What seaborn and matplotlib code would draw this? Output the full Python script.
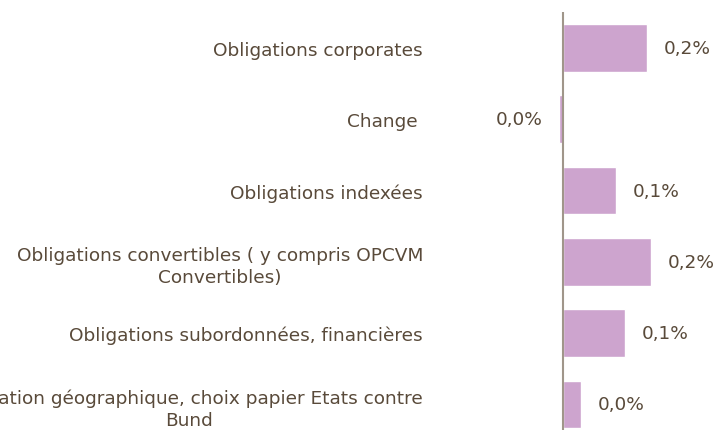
import numpy as np
import seaborn as sb
import pandas as pd
import matplotlib.pyplot as plt

# Data (valeurs en %)
categories = [
    "Obligations corporates",
    "Change ",
    "Obligations indexées",
    "Obligations convertibles ( y compris OPCVM\nConvertibles)",
    "Obligations subordonnées, financières",
    "Allocation géographique, choix papier Etats contre\nBund",
]
values = [0.19, -0.009, 0.12, 0.20, 0.14, 0.041]

bar_color = "#CDA4CE"
text_color = "#594A3A"
axis_color = "#A0968A"

df = pd.DataFrame({"cat": categories, "val": values})

sb.set_style("white")
plt.rcParams['font.family'] = ['DejaVu Sans']

fig = plt.figure(figsize=(7.16, 4.31), dpi=100)
ax = fig.add_axes([480 / 716, -0.023, 236 / 716, 0.992])

sb.barplot(data=df, x="val", y="cat", color=bar_color, saturation=1,
           width=0.667, ax=ax)

ax.set_xlim(-0.188, 0.346)
ax.set_xlabel("")
ax.set_ylabel("")
ax.set_xticks([])

for s in ["top", "right", "bottom", "left"]:
    ax.spines[s].set_visible(False)
ax.axvline(0, color=axis_color, lw=1.5, zorder=3)

# value labels
labels = [f"{round(v, 1) + 0.0:.1f}".replace(".", ",") + "%" for v in values]
ax.bar_label(ax.containers[0], labels=labels, padding=12, fontsize=13.3, color=text_color)

ax.tick_params(axis='y', length=0, pad=41, labelsize=13.3, labelcolor=text_color)
for lbl in ax.get_yticklabels():
    lbl.set_multialignment('center')
    lbl.set_linespacing(1.3)

plt.savefig("out.png", dpi=100)
